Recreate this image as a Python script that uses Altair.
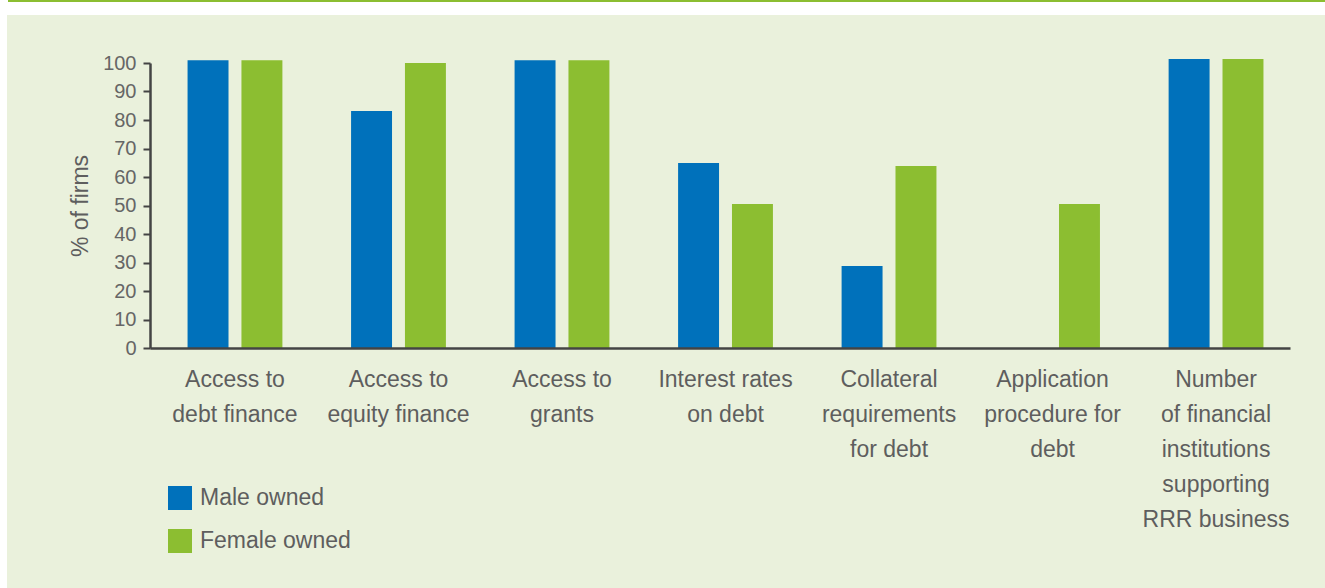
import altair as alt
import pandas as pd

categories = [
    "Access to|debt finance",
    "Access to|equity finance",
    "Access to|grants",
    "Interest rates|on debt",
    "Collateral|requirements|for debt",
    "Application|procedure for|debt",
    "Number|of financial|institutions|supporting|RRR business",
]
male = [101, 83.2, 101, 64.9, 28.8, 0, 101.4]
female = [101, 100, 101, 50.5, 63.9, 50.5, 101.4]
series = ["Male owned", "Female owned"]

rows = []
for c, m, f in zip(categories, male, female):
    rows.append({"cat": c, "series": series[0], "value": m})
    rows.append({"cat": c, "series": series[1], "value": f})
df = pd.DataFrame(rows)

W, H = 1140, 285
PL, PT = 150, 63
FONT = "Liberation Sans"
TXT = "#5e5e5e"

panel = alt.Chart(pd.DataFrame({"a": [0]})).mark_rect(color="#eaf1dc").encode(
    x=alt.value(7 - PL), x2=alt.value(1325 - PL), y=alt.value(15 - PT), y2=alt.value(588 - PT)
)
topline = alt.Chart(pd.DataFrame({"a": [0]})).mark_rect(color="#8cbe31").encode(
    x=alt.value(8 - PL), x2=alt.value(1325 - PL), y=alt.value(0 - PT), y2=alt.value(2 - PT)
)

bars = alt.Chart(df).mark_bar().encode(
    x=alt.X("cat:N", sort=categories,
            scale=alt.Scale(paddingInner=0.42, paddingOuter=0.196, align=0.586),
            axis=alt.Axis(title=None, labelAngle=0, ticks=False, zindex=1,
                          labelExpr="split(datum.label, '|')",
                          labelFontSize=23, labelColor=TXT, labelFont=FONT,
                          labelLineHeight=35, labelPadding=20, labelBaseline="top",
                          domainColor="#444444", domainWidth=2.5)),
    xOffset=alt.XOffset("series:N", sort=series,
                        scale=alt.Scale(paddingInner=0.24, paddingOuter=0)),
    y=alt.Y("value:Q", scale=alt.Scale(domain=[0, 100]),
            axis=alt.Axis(title="% of firms", values=list(range(0, 101, 10)), grid=False, zindex=1,
                          labelFontSize=20, labelColor="#666666", labelFont=FONT,
                          labelPadding=7, tickSize=7, tickColor="#444444", tickWidth=2,
                          domainColor="#444444", domainWidth=2.5,
                          titleFontSize=23, titleFont=FONT, titleColor=TXT,
                          titleFontWeight="normal", titlePadding=10)),
    color=alt.Color("series:N", sort=series,
                    scale=alt.Scale(domain=series, range=["#0071bb", "#8cbe31"]),
                    legend=alt.Legend(title=None, orient="none", legendX=18, legendY=423,
                                      symbolType="square", symbolSize=576, symbolStrokeWidth=0,
                                      symbolOpacity=1,
                                      labelFontSize=23, labelColor=TXT, labelFont=FONT,
                                      labelOffset=8, rowPadding=19)),
)

chart = alt.layer(panel, topline, bars).properties(
    width=W, height=H,
    autosize=alt.AutoSizeParams(type="none"),
    padding={"left": PL, "top": PT, "right": 1325 - PL - W, "bottom": 588 - PT - H},
    background="white",
).configure_view(stroke=None)

chart.save("out.html", embed_options={"renderer": "svg", "actions": False})
